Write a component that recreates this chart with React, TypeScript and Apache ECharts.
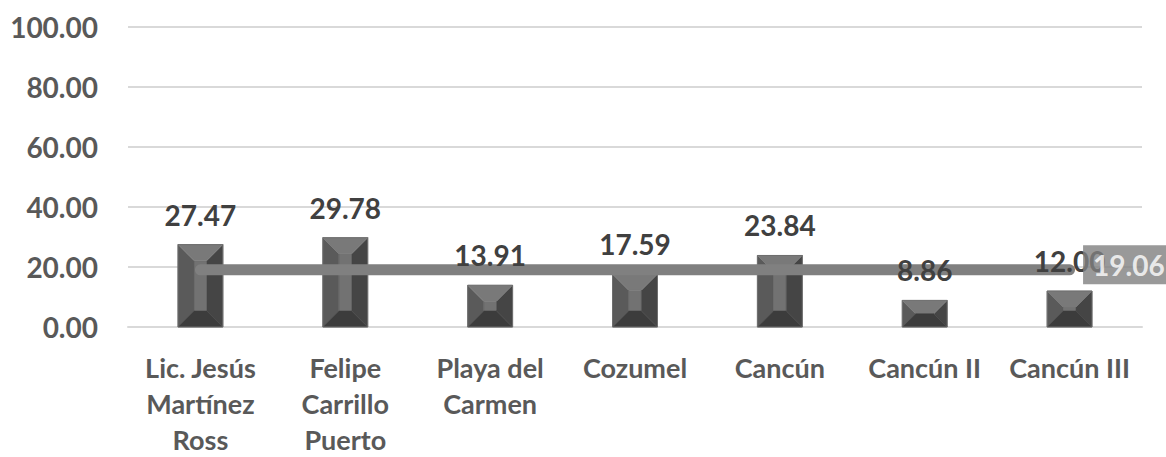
import React, { useEffect, useRef } from "react";
import * as echarts from "echarts";

const categories = [
  "Lic. Jesús\nMartínez\nRoss",
  "Felipe\nCarrillo\nPuerto",
  "Playa del\nCarmen",
  "Cozumel",
  "Cancún",
  "Cancún II",
  "Cancún III",
];
const values = [27.47, 29.78, 13.91, 17.59, 23.84, 8.86, 12.0];
const average = 19.06;
const averageLine = categories.map(() => average);
const yTicks = { min: 0, max: 100, interval: 20 };

const FONT = "Lato";

export default function App() {
  const ref = useRef<HTMLDivElement>(null);
  useEffect(() => {
    if (!ref.current) return;
    const chart = echarts.init(ref.current, null, { renderer: "svg" });
    const renderBevel = (params: any, api: any) => {
      const idx = api.value(0);
      const val = api.value(1);
      const top = api.coord([idx, val]);
      const base = api.coord([idx, 0]);
      const w = api.size([1, 0])[0] * 0.31;
      const x0 = top[0] - w / 2;
      const x1 = top[0] + w / 2;
      const y0 = top[1];
      const y1 = base[1];
      const h = y1 - y0;
      const b = Math.min(16, h / 2, w / 2);
      const poly = (points: number[][], fill: string) => ({
        type: "polygon",
        shape: { points },
        style: { fill, stroke: fill, lineWidth: 0.5 },
      });
      return {
        type: "group",
        children: [
          poly([[x0 + b, y0 + b], [x1 - b, y0 + b], [x1 - b, y1 - b], [x0 + b, y1 - b]], "#727272"),
          poly([[x0, y0], [x0 + b, y0 + b], [x0 + b, y1 - b], [x0, y1]], "#5a5a5a"),
          poly([[x1, y0], [x1 - b, y0 + b], [x1 - b, y1 - b], [x1, y1]], "#454545"),
          poly([[x0, y0], [x1, y0], [x1 - b, y0 + b], [x0 + b, y0 + b]], "#797979"),
          poly([[x0, y1], [x1, y1], [x1 - b, y1 - b], [x0 + b, y1 - b]], "#3c3c3c"),
          {
            type: "rect",
            shape: { x: x0, y: y0, width: w, height: h },
            style: { fill: "none", stroke: "#6e6e6e", lineWidth: 1 },
          },
        ],
      };
    };
    chart.setOption({
      animation: false,
      grid: {
        left: 128,
        right: 24,
        top: 27,
        bottom: 130,
        containLabel: false,
        outerBoundsMode: "none",
      },
      xAxis: {
        type: "category",
        data: categories,
        boundaryGap: true,
        axisLine: { show: true, lineStyle: { color: "#d9d9d9", width: 2 } },
        axisTick: { show: false },
        axisLabel: {
          interval: 0,
          margin: 22,
          fontFamily: FONT,
          fontWeight: "bold",
          fontSize: 27,
          lineHeight: 36,
          color: "#595959",
        },
      },
      yAxis: {
        type: "value",
        min: yTicks.min,
        max: yTicks.max,
        interval: yTicks.interval,
        axisLine: { show: false },
        axisTick: { show: false },
        splitLine: { lineStyle: { color: "#d9d9d9", width: 2 } },
        axisLabel: {
          margin: 30,
          fontFamily: FONT,
          fontWeight: "bold",
          fontSize: 28,
          color: "#595959",
          formatter: (v: number) => v.toFixed(2),
        },
      },
      series: [
        {
          type: "custom",
          z: 2,
          renderItem: renderBevel,
          encode: { x: 0, y: 1 },
          data: values.map((v, i) => [i, v]),
        },
        {
          type: "line",
          z: 3,
          data: averageLine,
          symbol: "none",
          lineStyle: { color: "#808080", width: 11, cap: "round" },
        },
        {
          type: "bar",
          z: 4,
          data: values,
          barWidth: "31%",
          itemStyle: { color: "rgba(0,0,0,0)" },
          label: {
            show: true,
            position: "top",
            distance: 16,
            fontFamily: FONT,
            fontWeight: "bold",
            fontSize: 28,
            color: "#404040",
            formatter: (p: any) => Number(p.value).toFixed(2),
          },
        },
        {
          type: "scatter",
          z: 10,
          symbolSize: 1,
          itemStyle: { color: "rgba(0,0,0,0)" },
          data: [[categories.length - 1, average]],
          label: {
            show: true,
            position: "right",
            distance: 13,
            offset: [0, -5],
            fontFamily: FONT,
            fontWeight: "bold",
            fontSize: 28,
            color: "#ffffff",
            backgroundColor: "#808080",
            padding: [6, 10, 5, 10],
            formatter: () => average.toFixed(2),
          },
        },
      ],
    });
    return () => chart.dispose();
  }, []);
  return (
    <div
      ref={ref}
      style={{ position: "fixed", left: 0, top: 0, width: 1166, height: 457, background: "#fff" }}
    />
  );
}
